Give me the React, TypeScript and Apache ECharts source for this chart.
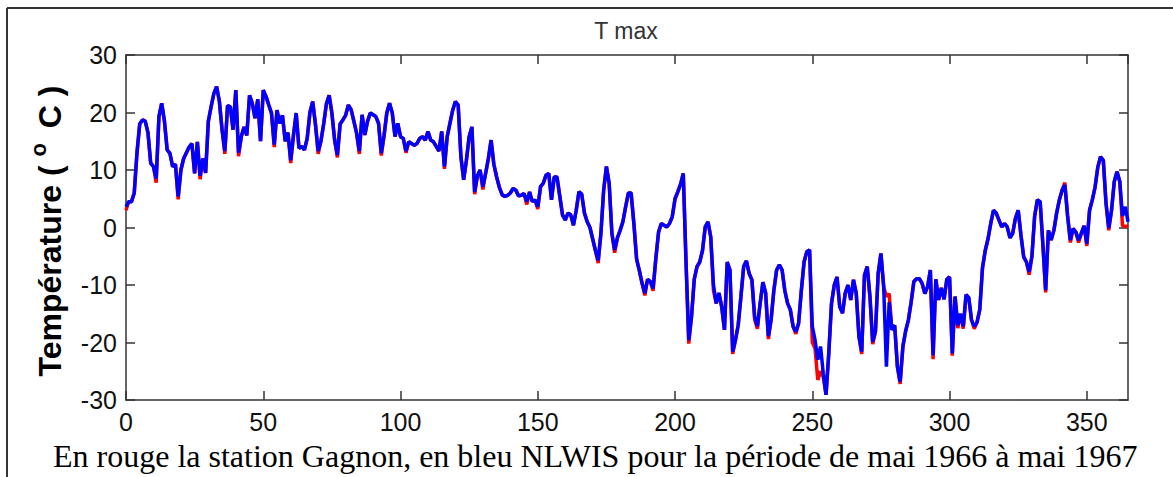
import { useEffect, useRef } from "react";
import * as echarts from "echarts";

// Daily maximum temperature (°C), day 0 = May 1966
const nlwisBlue: number[] = [
  3.6, 4.5, 4.5, 6, 13, 18, 18.7, 18.5, 16.5, 11.2,
  10.6, 8.5, 19.3, 21.6, 18.5, 13.5, 12.9, 10.6, 11, 5.4,
  10, 12, 13, 14, 14.6, 9.4, 14.9, 9, 12, 9.5,
  18.5, 21, 23.3, 24.5, 22, 17, 13.3, 21.2, 21, 17,
  23.9, 13, 15.8, 17.5, 16, 23, 21.6, 19, 22.3, 15,
  23.9, 22.8, 21.3, 19.9, 14.4, 20.4, 18.1, 19.5, 15, 16.5,
  11.7, 16, 19.9, 13.8, 14.1, 13.5, 15.5, 20, 21.9, 18,
  13.3, 15, 18, 21.5, 23, 19.9, 15.2, 12.6, 18, 18.7,
  19.5, 21.3, 20.5, 18.5, 16.4, 13.3, 19.6, 16.1, 18.5, 19.9,
  19.6, 19.3, 18.1, 12.9, 16, 19.9, 21.6, 19.9, 15.8, 18.1,
  15.8, 15.5, 13.3, 14.9, 14.6, 14.3, 14.6, 15.5, 15.8, 15.2,
  16.7, 15.2, 14.9, 14.1, 13.3, 16.7, 10.6, 15.8, 18.1, 20.4,
  21.9, 21.3, 12.3, 8.3, 11.7, 15.8, 17.5, 6.2, 9, 10,
  7.1, 9.4, 12, 15.2, 11, 8.8, 7, 5.7, 5.4, 5.6,
  6, 6.8, 6.5, 5.5, 5.6, 5.9, 4.5, 6.2, 4.5, 4.8,
  3.6, 7.1, 7.7, 9.1, 9.4, 4.8, 8.8, 8.8, 5.5, 2.2,
  1.3, 2.5, 2.2, 0.4, 3, 6.2, 5.8, 2.5, 1, 0,
  -2, -4, -5.7, -1, 6.5, 10.6, 7.7, -1, -3.9, -1.8,
  -0.5, 1, 3.6, 6, 6, 0.7, -5.5, -7.5, -9.7, -11.4,
  -9, -9.4, -10.6, -5.4, -0.8, 0.7, 0.4, 0.1, 0.7, 1.9,
  5, 6.2, 7.5, 9.4, -6, -19.6, -15.5, -9, -6.8, -6,
  -4, 0.1, 1, -1.6, -10, -13.2, -11.4, -13.8, -17.8, -6,
  -7.4, -21.6, -19.6, -17, -12, -6.8, -5.8, -8, -9.1, -15.5,
  -17.2, -13.2, -9.5, -11.4, -18.9, -16, -10.9, -7.4, -6.5, -7.4,
  -11, -13.2, -14.3, -17.2, -18.1, -16.7, -11, -6, -4.2, -3.9,
  -17.2, -19.6, -23, -20.7, -25.4, -29.1, -21.9, -13.2, -10, -8.6,
  -13.8, -14.9, -11.4, -10, -12.6, -9.1, -11.4, -19, -21.6, -8.3,
  -6.8, -12, -19.9, -18.1, -8, -4.5, -10.3, -24.2, -13, -17.8,
  -17, -24.2, -26.8, -20.7, -18, -16.1, -13, -9.4, -8.9, -8.9,
  -9.7, -11.5, -10.3, -7.4, -22.2, -9, -12.6, -10.5, -12.5, -9,
  -8.6, -21.9, -12, -17, -15, -17.2, -11.7, -12.2, -16.1, -17.2,
  -16.5, -14.3, -7, -4, -2, 0.7, 3, 2.5, 1.3, 0.1,
  0.7, 0.1, -1.8, -1, 1.6, 3, -1.3, -5.1, -6, -7.7,
  -5, 2, 4.8, 4.5, -3, -10.9, -0.5, -2.2, -0.5, 2.5,
  4.8, 6.5, 7.4, 2, -2.2, -0.2, -0.8, -2.2, -1, 0.3,
  -2.8, 3, 4.8, 7, 10.5, 12.3, 11.7, 4.2, -0.1, 3,
  8, 9.7, 8, 2, 3.6, 1,
];

const gagnonRed: number[] = [
  3.0, 4.5, 4.5, 6, 13, 18, 18.7, 18.5, 16.5, 11.2,
  10.6, 7.8, 19.3, 21.6, 18.5, 13.5, 12.9, 10.6, 11, 4.9,
  10, 12, 13, 14, 14.6, 9.4, 14.9, 8.4, 12, 9.5,
  18.5, 21, 23.3, 24.5, 22, 17, 12.8, 21.2, 21, 17,
  23.9, 12.4, 15.8, 17.5, 16, 23, 21.6, 19, 22.3, 15,
  23.9, 22.8, 21.3, 19.9, 14, 20.4, 18.1, 19.5, 15, 16.5,
  11.2, 16, 19.9, 13.8, 14.1, 13.5, 15.5, 20, 21.9, 18,
  12.8, 15, 18, 21.5, 23, 19.9, 15.2, 12.2, 18, 18.7,
  19.5, 21.3, 20.5, 18.5, 16.4, 12.8, 19.6, 16.1, 18.5, 19.9,
  19.6, 19.3, 18.1, 12.5, 16, 19.9, 21.6, 19.9, 15.8, 18.1,
  15.8, 15.5, 13, 14.9, 14.6, 14.3, 14.6, 15.5, 15.8, 15.2,
  16.7, 15.2, 14.9, 14.1, 13.3, 16.7, 10.2, 15.8, 18.1, 20.4,
  21.9, 21.3, 12.3, 8.3, 11.7, 15.8, 17.5, 5.8, 9, 10,
  6.6, 9.4, 12, 15.2, 11, 8.8, 7, 5.7, 5.4, 5.6,
  6, 6.8, 6.5, 5.5, 5.6, 5.9, 4, 6.2, 4.5, 4.8,
  3.2, 7.1, 7.7, 9.1, 9.4, 4.8, 8.8, 8.8, 5.5, 2.2,
  1.3, 2.5, 2.2, 0.4, 3, 6.2, 5.8, 2.5, 1, 0,
  -2, -4, -6.2, -1, 6.5, 10.6, 7.7, -1, -4.4, -1.8,
  -0.5, 1, 3.6, 6, 6, 0.7, -5.5, -7.5, -9.7, -11.8,
  -9, -9.4, -11, -5.4, -0.8, 0.7, 0.4, 0.1, 0.7, 1.9,
  5, 6.2, 7.5, 9.4, -6, -20.2, -15.5, -9, -6.8, -6,
  -4, 0.1, 1, -1.6, -11, -13.2, -11.4, -13.8, -17.8, -6,
  -7.4, -22, -19.6, -17, -12, -6.8, -5.8, -8, -9.1, -16,
  -17.6, -13.2, -9.5, -11.4, -19.4, -16, -10.9, -7.4, -6.5, -7.4,
  -11, -13.2, -14.3, -17.2, -18.5, -16.7, -11, -6, -4.2, -3.9,
  -20, -21, -26.5, -25, -26, -29.1, -21.9, -13.2, -10, -8.6,
  -13.8, -14.9, -11.4, -10, -12.6, -9.1, -11.4, -19, -22, -8.3,
  -6.8, -12, -20.3, -18.1, -8, -4.5, -10.3, -12, -11.5, -17.8,
  -17, -24.2, -27.2, -20.7, -18, -16.1, -13, -9.4, -8.9, -8.9,
  -9.7, -11.5, -10.3, -7.4, -22.9, -9, -12.6, -10.5, -12.5, -9,
  -8.6, -22.3, -12, -17.5, -15, -17.6, -11.7, -12.2, -16.1, -17.6,
  -16.5, -14.3, -7, -4, -2, 0.7, 3, 2.5, 1.3, 0.1,
  0.7, 0.1, -1.8, -1, 1.6, 3, -1.3, -5.1, -6, -8.2,
  -5, 2, 4.8, 4.5, -3, -11.3, -0.5, -2.2, -0.5, 2.5,
  4.8, 6.5, 7.8, 2, -2.6, -0.2, -0.8, -2.6, -1, 0.3,
  -3.2, 3, 4.8, 7, 10.5, 12.3, 11.7, 4.2, -0.5, 3,
  8, 9.7, 8, 0.3, 0.2, 0.2,
];

const xTickLabels: number[] = [0, 50, 100, 150, 200, 250, 300, 350];
const yTickLabels: number[] = [-30, -20, -10, 0, 10, 20, 30];

const titleText = "T max";
const yLabelText = "Température ( {s|o} C )";
const captionText =
  "En rouge la station Gagnon, en bleu NLWIS pour la période de mai 1966 à mai 1967";

const W = 1173;
const H = 477;
const AXIS_COLOR = "#333333";
const SANS = "Liberation Sans, Arial, sans-serif";

export default function App() {
  const ref = useRef<HTMLDivElement>(null);

  useEffect(() => {
    if (!ref.current) return;
    const chart = echarts.init(ref.current, undefined, { renderer: "svg" });

    const toPairs = (arr: number[]) => arr.map((v, i) => [i, v]);

    const baseAxisLine = { show: true, onZero: false, lineStyle: { color: AXIS_COLOR, width: 1.5 } };
    const baseTick = { show: true, inside: true, length: 9, lineStyle: { color: AXIS_COLOR, width: 1.5 } };
    const labelStyle = { fontSize: 25, color: "#111", fontFamily: SANS };

    chart.setOption({
      animation: false,
      backgroundColor: "#ffffff",
      grid: { left: 126, right: 45, top: 55, bottom: 77, containLabel: false },
      xAxis: [
        {
          type: "value",
          min: 0,
          max: 365,
          interval: 50,
          position: "bottom",
          axisLine: baseAxisLine,
          axisTick: baseTick,
          splitLine: { show: false },
          axisLabel: {
            ...labelStyle,
            margin: 9,
            showMaxLabel: false,
            formatter: (v: number) => (xTickLabels.includes(v) ? String(v) : ""),
          },
        },
        {
          type: "value",
          min: 0,
          max: 365,
          interval: 50,
          position: "top",
          axisLine: baseAxisLine,
          axisTick: baseTick,
          splitLine: { show: false },
          axisLabel: { show: false },
        },
      ],
      yAxis: [
        {
          type: "value",
          min: -30,
          max: 30,
          interval: 10,
          position: "left",
          axisLine: baseAxisLine,
          axisTick: baseTick,
          splitLine: { show: false },
          axisLabel: {
            ...labelStyle,
            margin: 9,
            formatter: (v: number) => (yTickLabels.includes(v) ? String(v) : ""),
          },
        },
        {
          type: "value",
          min: -30,
          max: 30,
          interval: 10,
          position: "right",
          axisLine: baseAxisLine,
          axisTick: baseTick,
          splitLine: { show: false },
          axisLabel: { show: false },
        },
      ],
      series: [
        {
          name: "Gagnon",
          type: "line",
          xAxisIndex: 0,
          yAxisIndex: 0,
          data: toPairs(gagnonRed),
          showSymbol: false,
          symbol: "none",
          lineStyle: { color: "#ff0000", width: 3.5 },
          itemStyle: { color: "#ff0000" },
          z: 2,
        },
        {
          name: "NLWIS",
          type: "line",
          xAxisIndex: 0,
          yAxisIndex: 0,
          data: toPairs(nlwisBlue),
          showSymbol: false,
          symbol: "none",
          lineStyle: { color: "#0000ff", width: 3.5 },
          itemStyle: { color: "#0000ff" },
          z: 3,
        },
      ],
      graphic: [
        {
          type: "line",
          shape: { x1: 7, y1: 8, x2: W, y2: 8 },
          style: { stroke: AXIS_COLOR, lineWidth: 2 },
        },
        {
          type: "line",
          shape: { x1: 7, y1: 8, x2: 7, y2: H },
          style: { stroke: AXIS_COLOR, lineWidth: 2 },
        },
        {
          type: "text",
          x: 626,
          y: 31,
          style: {
            text: titleText,
            fontSize: 23,
            fontFamily: SANS,
            fill: "#333",
            align: "center",
            verticalAlign: "middle",
            textAlign: "center",
            textVerticalAlign: "middle",
          },
        },
        {
          type: "text",
          x: 50,
          y: 231,
          rotation: Math.PI / 2,
          style: {
            text: yLabelText,
            fontSize: 32,
            fontWeight: "bold",
            fontFamily: SANS,
            fill: "#000",
            lineHeight: 46,
            align: "center",
            verticalAlign: "middle",
            textAlign: "center",
            textVerticalAlign: "middle",
            rich: {
              s: {
                fontSize: 22,
                lineHeight: 22,
                fontWeight: "bold",
                fontFamily: SANS,
                fill: "#000",
                verticalAlign: "top",
                padding: [0, 6, 0, 0],
              },
            },
          },
        },
        {
          type: "text",
          x: 53,
          y: 456,
          style: {
            text: captionText,
            fontSize: 32,
            fontFamily: "Liberation Serif, Times New Roman, serif",
            fill: "#000",
            align: "left",
            verticalAlign: "middle",
            textAlign: "left",
            textVerticalAlign: "middle",
          },
        },
      ],
    });

    return () => {
      chart.dispose();
    };
  }, []);

  return (
    <div
      ref={ref}
      style={{ position: "fixed", left: 0, top: 0, width: W, height: H, background: "#fff" }}
    />
  );
}
